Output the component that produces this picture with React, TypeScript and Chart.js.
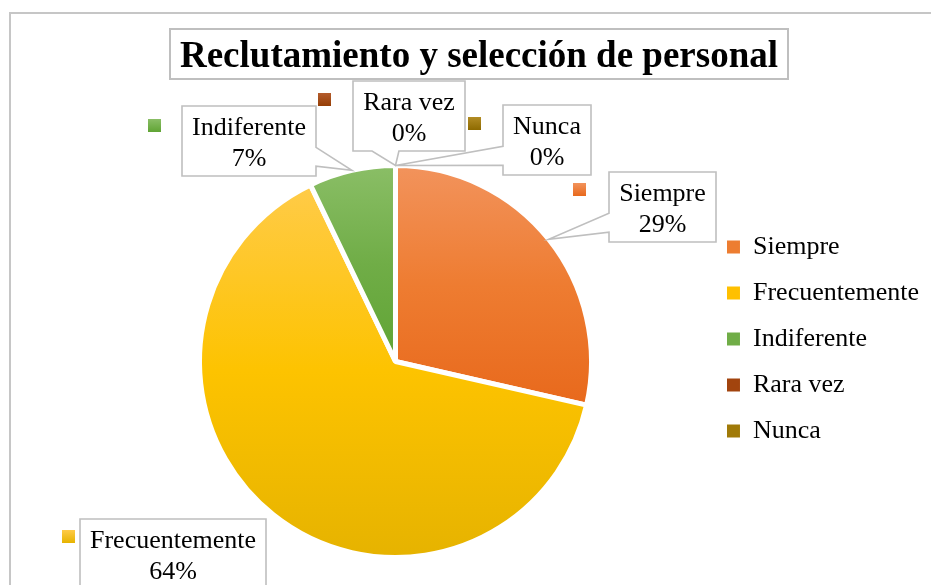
import React, { useEffect, useRef } from 'react';
import { Chart, registerables } from 'chart.js';

Chart.register(...registerables);

// ---------- data ----------
const TITLE = 'Reclutamiento y selección de personal';
const categories = ['Siempre', 'Frecuentemente', 'Indiferente', 'Rara vez', 'Nunca'];
const counts = [8, 18, 2, 0, 0];

// ---------- styles ----------
const topColors = ['#F2935C', '#FFCB48', '#8ABE66', '#B45C2C', '#B28C24'];
const midColors = ['#EE7C31', '#FDC300', '#70AD47', '#A3470E', '#9E7600'];
const bottomColors = ['#E8691C', '#E6B300', '#60A434', '#953E06', '#8E6A00'];
const legendColors = ['#ED7D31', '#FFC000', '#70AD47', '#A2440E', '#A07A08'];
const FONT = '"Liberation Serif", "Times New Roman", serif';
const BORDER_GREY = '#BFBFBF';
const SLICE_BORDER = 5;

// callout layout: box offset from the slice anchor, wedge side and span, key offset
const labelLayout = [
  { dx: 60, dy: -67, side: 'left', f0: 0.59, f1: 0.86, keyDx: -36, keyDy: 11 },
  { dx: -193, dy: 4, side: 'none', f0: 0, f1: 0, keyDx: -18, keyDy: 11 },
  { dx: -170, dy: -64, side: 'right', f0: 0.59, f1: 0.86, keyDx: -34, keyDy: 13 },
  { dx: -42, dy: -85, side: 'bottom', f0: 0.17, f1: 0.41, keyDx: -35, keyDy: 12 },
  { dx: 108, dy: -61, side: 'left', f0: 0.59, f1: 0.86, keyDx: -35, keyDy: 12 },
];

const total = counts.reduce((a, b) => a + b, 0);
const percentLabels = counts.map((v) => Math.round((v / total) * 100) + '%');

function sliceFill(ctx: any) {
  const chart = ctx.chart;
  const area = chart.chartArea;
  const i = ctx.dataIndex;
  if (!area || i === undefined) return legendColors[i ?? 0];
  const cx = (area.left + area.right) / 2;
  const cy = (area.top + area.bottom) / 2;
  const R = (Math.min(area.right - area.left, area.bottom - area.top) - SLICE_BORDER) / 2;
  let cum = 0;
  for (let k = 0; k < i; k++) cum += counts[k];
  const a0 = -Math.PI / 2 + (2 * Math.PI * cum) / total;
  const a1 = a0 + (2 * Math.PI * counts[i]) / total;
  const ys = [cy, cy + R * Math.sin(a0), cy + R * Math.sin(a1)];
  const within = (t: number) => {
    for (let k = -1; k <= 1; k++) {
      const v = t + 2 * Math.PI * k;
      if (v >= a0 && v <= a1) return true;
    }
    return false;
  };
  if (within(Math.PI / 2)) ys.push(cy + R);
  if (within(-Math.PI / 2)) ys.push(cy - R);
  const y0 = Math.min(...ys);
  let y1 = Math.max(...ys);
  if (y1 - y0 < 1) y1 = y0 + 1;
  const g = chart.ctx.createLinearGradient(0, y0, 0, y1);
  g.addColorStop(0, topColors[i]);
  g.addColorStop(0.5, midColors[i]);
  g.addColorStop(1, bottomColors[i]);
  return g;
}

const framePlugin = {
  id: 'frame',
  beforeDraw(chart: any) {
    const ctx = chart.ctx;
    ctx.save();
    ctx.fillStyle = '#FFFFFF';
    ctx.fillRect(0, 0, chart.width, chart.height);
    ctx.strokeStyle = '#C6C6C6';
    ctx.lineWidth = 2;
    ctx.strokeRect(10, 13, chart.width + 50, chart.height + 50);
    ctx.restore();
  },
};

const titlePlugin = {
  id: 'boxedTitle',
  afterDraw(chart: any) {
    const ctx = chart.ctx;
    ctx.save();
    ctx.font = `bold 37px ${FONT}`;
    const tw = ctx.measureText(TITLE).width;
    const cx = 479;
    const left = Math.round(cx - tw / 2 - 10);
    const w = Math.round(tw + 20);
    ctx.fillStyle = '#FFFFFF';
    ctx.fillRect(left, 29, w, 50);
    ctx.strokeStyle = BORDER_GREY;
    ctx.lineWidth = 2;
    ctx.strokeRect(left, 29, w, 50);
    ctx.fillStyle = '#000000';
    ctx.textAlign = 'center';
    ctx.textBaseline = 'alphabetic';
    ctx.fillText(TITLE, cx, 67);
    ctx.restore();
  },
};

const calloutPlugin = {
  id: 'callouts',
  afterDraw(chart: any) {
    const ctx = chart.ctx;
    const meta = chart.getDatasetMeta(0);
    ctx.save();
    ctx.font = `26px ${FONT}`;
    meta.data.forEach((arc: any, i: number) => {
      const p = arc.getProps(['x', 'y', 'startAngle', 'endAngle', 'outerRadius'], true);
      const mid = (p.startAngle + p.endAngle) / 2;
      const ax = p.x + Math.cos(mid) * p.outerRadius;
      const ay = p.y + Math.sin(mid) * p.outerRadius;
      const L = labelLayout[i];
      const lines = [categories[i], percentLabels[i]];
      const w = Math.round(Math.max(...lines.map((t) => ctx.measureText(t).width)) + 20);
      const h = 70;
      const left = Math.round(ax + L.dx);
      const top = Math.round(ay + L.dy);
      const right = left + w;
      const bottom = top + h;

      ctx.beginPath();
      ctx.moveTo(left, top);
      ctx.lineTo(right, top);
      if (L.side === 'right') {
        ctx.lineTo(right, top + L.f0 * h);
        ctx.lineTo(ax, ay);
        ctx.lineTo(right, top + L.f1 * h);
      }
      ctx.lineTo(right, bottom);
      if (L.side === 'bottom') {
        ctx.lineTo(left + L.f1 * w, bottom);
        ctx.lineTo(ax, ay);
        ctx.lineTo(left + L.f0 * w, bottom);
      }
      ctx.lineTo(left, bottom);
      if (L.side === 'left') {
        ctx.lineTo(left, top + L.f1 * h);
        ctx.lineTo(ax, ay);
        ctx.lineTo(left, top + L.f0 * h);
      }
      ctx.closePath();
      ctx.fillStyle = '#FFFFFF';
      ctx.fill();
      ctx.strokeStyle = BORDER_GREY;
      ctx.lineWidth = 1.6;
      ctx.lineJoin = 'miter';
      ctx.stroke();

      // legend key
      const kx = left + L.keyDx;
      const ky = top + L.keyDy;
      const g = ctx.createLinearGradient(0, ky, 0, ky + 13);
      g.addColorStop(0, topColors[i]);
      g.addColorStop(1, bottomColors[i]);
      ctx.fillStyle = g;
      ctx.fillRect(kx, ky, 13, 13);

      ctx.fillStyle = '#000000';
      ctx.textAlign = 'center';
      ctx.textBaseline = 'alphabetic';
      ctx.fillText(lines[0], left + w / 2, top + 29);
      ctx.fillText(lines[1], left + w / 2, top + 60);
    });
    ctx.restore();
  },
};

export default function App() {
  const ref = useRef<HTMLCanvasElement>(null);
  useEffect(() => {
    const canvas = ref.current!;
    const chart = new Chart(canvas, {
      type: 'pie',
      data: {
        labels: categories,
        datasets: [
          {
            data: counts,
            backgroundColor: sliceFill as any,
            borderColor: '#FFFFFF',
            borderWidth: SLICE_BORDER,
            hoverOffset: 0,
          },
        ],
      },
      options: {
        responsive: false,
        maintainAspectRatio: false,
        animation: false,
        events: [],
        layout: { padding: { left: 84, right: 2, top: 163, bottom: 25 } },
        plugins: {
          title: { display: false },
          tooltip: { enabled: false },
          legend: {
            position: 'right',
            align: 'start',
            title: { display: true, text: '', font: { size: 10 }, padding: { top: 39, bottom: 0 } },
            labels: {
              font: { family: FONT, size: 26 },
              color: '#000000',
              boxWidth: 13,
              boxHeight: 13,
              padding: 20,
              generateLabels: () =>
                categories.map((c, i) => ({
                  text: c,
                  fillStyle: legendColors[i],
                  strokeStyle: legendColors[i],
                  lineWidth: 0,
                  hidden: false,
                  index: i,
                  datasetIndex: 0,
                  fontColor: '#000000',
                })),
            },
          },
        },
      } as any,
      plugins: [framePlugin, titlePlugin, calloutPlugin],
    });
    return () => chart.destroy();
  }, []);
  return (
    <div style={{ position: 'fixed', left: 0, top: 0, width: 931, height: 585, background: '#fff' }}>
      <canvas ref={ref} width={931} height={585} style={{ display: 'block', width: 931, height: 585 }} />
    </div>
  );
}
